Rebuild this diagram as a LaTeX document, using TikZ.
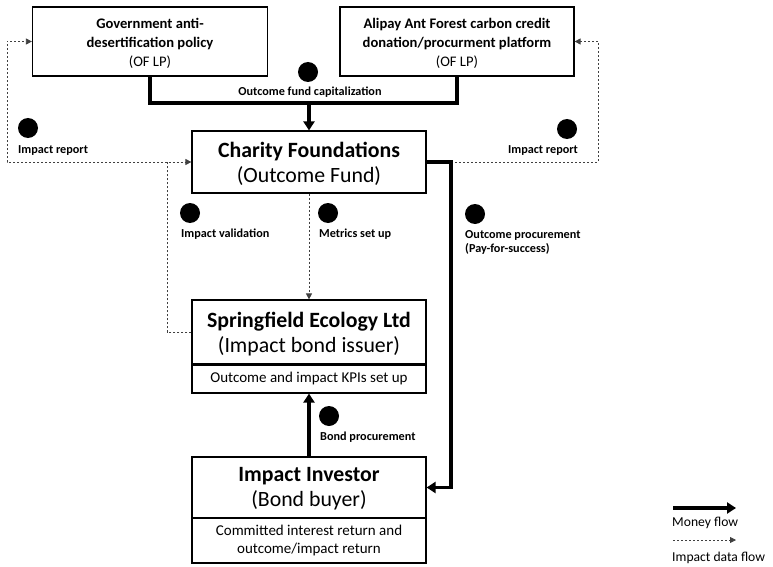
\documentclass[tikz,border=0pt]{standalone}
\usepackage{fontspec}
\setmainfont{Carlito}
\usetikzlibrary{arrows.meta}
\begin{document}
\begin{tikzpicture}[x=1pt,y=-1pt,
  box/.style={draw,line width=1.2pt,inner sep=0pt,align=center,minimum width=235pt},
  money/.style={line width=3.5pt,line join=miter,-{Triangle[length=9pt,width=11pt]}},
  moneyline/.style={line width=3.5pt,line join=miter},
  data/.style={line width=0.8pt,draw=black!75,dash pattern=on 2pt off 2pt,-{Triangle[length=6pt,width=6pt]}},
  dataline/.style={line width=0.8pt,draw=black!75,dash pattern=on 2pt off 2pt},
  dot/.style={circle,fill=black,minimum size=20pt,inner sep=0pt},
  lab/.style={font=\fontsize{12.2}{14}\selectfont\bfseries,inner sep=0pt},
  title/.style={font=\fontsize{14.6}{19}\selectfont},
  big/.style={font=\fontsize{21.8}{25}\selectfont},
  small/.style={font=\fontsize{15}{18}\selectfont}]
\useasboundingbox (0,0) rectangle (773,567);
% boxes
\node[box,title,minimum height=69pt] (gov) at (150,41.5) {};
\node[title,align=center,inner sep=0pt] (govt) at (150,43.5) {\textbf{Government anti-}\\\textbf{desertification policy}\\(OF LP)};
\node[box,title,minimum height=69pt,minimum width=234pt] (ali) at (457,41.5) {};
\node[title,align=center,inner sep=0pt] (alit) at (457,43.5) {\textbf{Alipay Ant Forest carbon credit}\\\textbf{donation/procurment platform}\\(OF LP)};
\node[box,big,minimum height=62pt,minimum width=234pt] (cha) at (309,162) {};
\node[big,align=center,inner sep=0pt] (chat) at (309,164) {\textbf{Charity Foundations}\\(Outcome Fund)};
\node[box,big,minimum height=64pt,minimum width=234pt] (spr) at (309,332) {};
\node[big,align=center,inner sep=0pt] (sprt) at (309,334) {\textbf{Springfield Ecology Ltd}\\(Impact bond issuer)};
\node[box,small,minimum height=29pt,minimum width=234pt] (kpi) at (309,378.5) {Outcome and impact KPIs set up};
\draw[line width=2.6pt] (spr.south west) -- (spr.south east);
\node[box,big,minimum height=61pt,minimum width=234pt] (inv) at (309,487.5) {};
\node[big,align=center,inner sep=0pt] (invt) at (309,489) {\textbf{Impact Investor}\\(Bond buyer)};
\node[box,font=\fontsize{15}{18}\selectfont,minimum height=45pt,minimum width=234pt] (ret) at (309,540.5) {Committed interest return and\\outcome/impact return};
% coordinates
\coordinate (j) at (309,103);
\coordinate (mr) at (451,162);
\coordinate (vl) at (167,162);
\coordinate (lb) at (7,162);
\coordinate (rb) at (598,162);
% data flows
\draw[data] (cha.south) -- (spr.north);
\draw[data] (spr.west) -| (vl) -- (cha.west);
\draw[data] (vl) -- (lb) |- (gov.west);
\draw[data] (mr) -- (rb) |- (ali.east);
% money flows
\draw[moneyline] (gov.south) |- (j) -| (ali.south);
\draw[money] (j) -- (cha.north);
\draw[money] (cha.east) -- (mr) |- (inv.east);
\draw[money] (inv.north) -- (kpi.south);
% dots
\node[dot] (d1) at (308,72) {};
\node[dot] (d2) at (28,128) {};
\node[dot] (d3) at (567,129) {};
\node[dot] (d4) at (190,213) {};
\node[dot] (d5) at (328,213) {};
\node[dot] (d6) at (475,214) {};
\node[dot] (d7) at (329,416) {};
% labels
\node[lab] (l1) at (310,92) {Outcome fund capitalization};
\node[lab,anchor=west] (l2) at (18,151) {Impact report};
\node[lab] (l3) at (543,151) {Impact report};
\node[lab,anchor=west] (l4) at (181,234) {Impact validation};
\node[lab,anchor=west] (l5) at (319,234) {Metrics set up};
\node[lab,anchor=west,align=left] (l6) at (465,242) {Outcome procurement\\(Pay-for-success)};
\node[lab,anchor=west] (l7) at (320,437) {Bond procurement};
% legend
\coordinate (m1) at (673,508);
\coordinate (m2) at (736,508);
\draw[money] (m1) -- (m2);
\node[font=\fontsize{13.6}{15}\selectfont,anchor=west,inner sep=0pt] (t1) at (672,523) {Money flow};
\coordinate (n1) at (673,540);
\coordinate (n2) at (736,540);
\draw[data] (n1) -- (n2);
\node[font=\fontsize{13.6}{15}\selectfont,anchor=west,inner sep=0pt] (t2) at (672,558) {Impact data flow};
\end{tikzpicture}
\end{document}
